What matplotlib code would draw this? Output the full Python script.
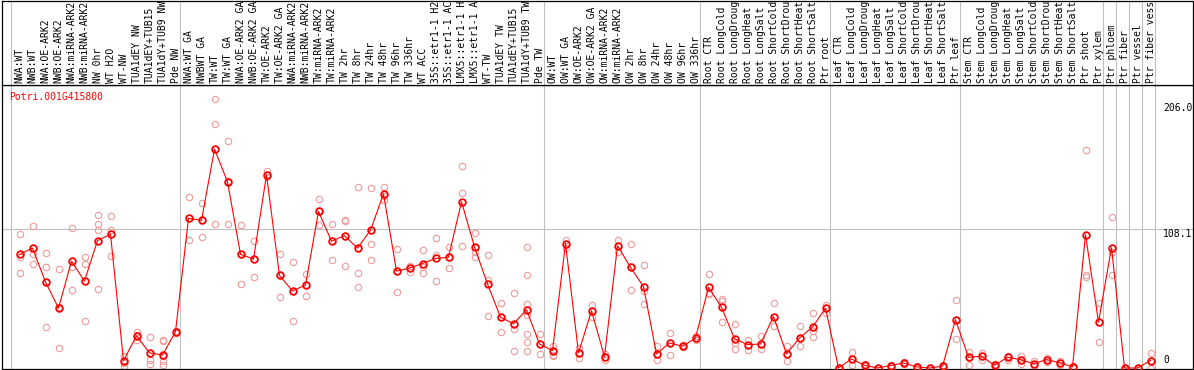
import matplotlib
matplotlib.use("Agg")
import matplotlib.pyplot as plt
import matplotlib.transforms as mtransforms

# column labels, truncated the way the chart shows them
group_labels = [
    ["NWA:WT", "NWB:WT", "NWA:OE-ARK2", "NWB:OE-ARK2", "NWA:miRNA-ARK2",
     "NWB:miRNA-ARK2", "NW 0hr", "WT H2O", "WT-NW", "TUA1dEY NW",
     "TUA1dEY+TUB15", "TUA1dY+TUB9 NW", "Pde NW"],
    ["NWA:WT GA", "NWBWT GA", "TW:WT", "TW:WT GA", "NWA:OE-ARK2 GA",
     "NWB:OE-ARK2 GA", "TW:OE-ARK2", "TW:OE-ARK2 GA", "NWA:miRNA-ARK2",
     "NWB:miRNA-ARK2", "TW:miRNA-ARK2", "TW:miRNA-ARK2", "TW 2hr", "TW 8hr",
     "TW 24hr", "TW 48hr", "TW 96hr", "TW 336hr", "WT ACC", "35S::etr1-1 H2",
     "35S::etr1-1 AC", "LMX5::etr1-1 H", "LMX5::etr1-1 A", "WT-TW",
     "TUA1dEY TW", "TUA1dEY+TUB15", "TUA1dY+TUB9 TW", "Pde TW"],
    ["OW:WT", "OW:WT GA", "OW:OE-ARK2", "OW:OE-ARK2 GA", "OW:miRNA-ARK2",
     "OW:miRNA-ARK2", "OW 2hr", "OW 8hr", "OW 24hr", "OW 48hr", "OW 96hr",
     "OW 336hr"],
    ["Root CTR", "Root LongCold", "Root LongDroug", "Root LongHeat",
     "Root LongSalt", "Root ShortCold", "Root ShortDrou", "Root ShortHeat",
     "Root ShortSalt", "Ptr root"],
    ["Leaf CTR", "Leaf LongCold", "Leaf LongDroug", "Leaf LongHeat",
     "Leaf LongSalt", "Leaf ShortCold", "Leaf ShortDrou", "Leaf ShortHeat",
     "Leaf ShortSalt", "Ptr leaf"],
    ["Stem CTR", "Stem LongCold", "Stem LongDroug", "Stem LongHeat",
     "Stem LongSalt", "Stem ShortCold", "Stem ShortDrou", "Stem ShortHeat",
     "Stem ShortSalt", "Ptr shoot", "Ptr xylem"],
    ["Ptr phloem"],
    ["Ptr fiber"],
    ["Ptr vessel"],
    ["Ptr fiber vess"],
]

means = [
    88.0, 92.9, 66.7, 46.4, 82.8, 67.4, 98.8, 103.7, 5.7, 25.0, 11.7, 10.1, 28.1,
    116.0, 114.5, 169.7, 144.3, 88.2, 84.4, 149.7, 71.8, 59.7, 64.4, 121.4, 98.3,
    102.6, 92.9, 106.8, 135.0, 75.1, 77.5, 81.0, 84.9, 85.9, 128.9, 93.9, 65.1,
    39.4, 34.3, 45.1, 18.6,
    13.5, 96.5, 11.7, 44.3, 8.8, 94.9, 78.0, 63.1, 10.9, 19.4, 16.8, 23.2,
    62.5, 47.1, 22.7, 18.1, 18.6, 39.9, 10.9, 23.2, 31.7, 46.4,
    0.0, 7.0, 2.1, 0.0, 1.9, 3.9, 0.9, 0.0, 1.4, 37.4,
    8.3, 9.1, 2.1, 8.3, 6.5, 3.4, 6.5, 4.2, 0.9, 103.4, 35.6,
    93.4, 0.0, 0.0, 5.8,
]

replicates = [
    [104.2, 86.2, 73.3], [110.3, 88.0, 80.3], [88.8, 78.0, 32.0],
    [76.4, 47.0, 15.8], [108.3, 78.5, 60.5], [85.7, 80.3, 36.6],
    [118.3, 111.4, 106.8, 61.0], [117.5, 106.8, 87.2], [9.1, 4.0, 1.9],
    [27.6, 25.5, 21.4], [24.3, 6.5, 3.4], [22.0, 20.7, 9.1, 5.2, 2.1],
    [29.0, 27.5],
    [132.7, 116.0, 99.6], [128.1, 114.5, 101.4], [208.3, 189.0, 111.9],
    [175.9, 145.0, 111.9], [111.1, 88.2, 65.1], [98.3, 84.4, 70.3],
    [152.5, 147.9], [88.2, 71.8, 54.8], [81.8, 59.7, 36.6], [72.9, 64.4, 55.9],
    [130.7, 121.4, 111.1], [111.9, 98.3, 84.1], [115.0, 114.2, 79.0],
    [140.7, 73.3, 62.5], [139.9, 96.0, 83.4], [140.7, 133.7, 130.6],
    [92.1, 75.1, 58.9], [79.3, 77.5, 74.4], [91.8, 78.0, 73.3],
    [100.6, 87.5, 67.4], [93.6, 85.9, 77.2], [156.6, 135.8, 94.4],
    [105.0, 90.0, 85.9], [87.5, 68.2, 40.4], [50.7, 39.4, 28.1],
    [58.4, 30.2, 13.5], [93.6, 72.0, 49.7, 41.2, 26.6, 20.1, 13.5],
    [26.6, 18.6, 10.9],
    [16.8, 10.4, 9.6], [99.6, 96.5, 93.1], [15.5, 11.7, 7.5],
    [48.9, 44.3, 39.9], [11.1, 8.8, 6.0], [99.6, 94.9, 90.0],
    [96.0, 78.0, 60.5], [79.5, 60.0, 49.7], [16.8, 10.9, 6.5],
    [27.1, 19.4, 10.4], [18.1, 16.8, 16.0], [25.0, 23.2, 21.9],
    [72.6, 58.0, 57.0], [53.8, 52.0, 35.6], [34.0, 19.4, 14.7],
    [21.9, 18.1, 14.2], [24.5, 18.6, 14.7], [50.2, 39.9, 32.2],
    [16.8, 10.9, 5.2], [32.2, 23.2, 16.8], [42.5, 28.4, 23.7],
    [48.9, 46.4, 42.5],
    [0.0, 0.0, 0.0], [12.2, 7.0, 2.7], [3.0, 2.1, 1.2], [0.0, 0.0, 0.0],
    [2.5, 1.9, 1.3], [5.0, 3.9, 2.8], [1.5, 0.9, 0.3], [0.0, 0.0, 0.0],
    [2.3, 1.4, 0.5], [52.5, 37.4, 22.4],
    [12.7, 8.3, 2.4], [11.7, 9.1, 6.5], [3.0, 2.1, 1.2], [9.6, 8.3, 6.5],
    [9.1, 6.5, 3.2], [5.8, 3.4, 1.4], [7.8, 6.5, 4.5], [5.8, 4.2, 2.6],
    [1.5, 0.9, 0.3], [168.9, 72.0, 70.3], [50.7, 35.6, 20.4],
    [117.3, 90.0, 72.0], [0.0, 0.0], [0.0, 0.0], [11.7, 5.8, 0.0],
]

gene = "Potri.001G415800"
ytick_vals = [0, 108.1, 206.0]
ytick_labels = ["0", "108.1", "206.0"]

labels = [l for g in group_labels for l in g]
xs = list(range(len(labels)))

W, H = 1194, 370
MONO = "DejaVu Sans Mono"
GREY = "#c0c0c0"
RED = "#ff0000"
PINK = "#f09a9a"


def frac(x0, y0, x1, y1):
    # pixel box (top-left origin) -> figure fraction rect
    return [x0 / W, 1 - y1 / H, (x1 - x0) / W, (y1 - y0) / H]


fig = plt.figure(figsize=(W / 100, H / 100), dpi=100)
ax = fig.add_axes(frac(1.5, 85, 1192.5, 369))
top = fig.add_axes(frac(1.5, 0.5, 1192.5, 85), sharex=ax)

ax.set_xlim(-1.385, 90.23)
ax.set_ylim(-0.78, 219.4)
top.set_ylim(0, 1)

for a in (ax, top):
    a.set_xticks([])
    a.set_yticks([])
    for s in a.spines.values():
        s.set_linewidth(0.9)
        s.set_color("black")

# group separators
edges = [0]
for g in group_labels:
    edges.append(edges[-1] + len(g))
for e in edges:
    for a in (ax, top):
        a.axvline(e - 0.65, color=GREY, lw=0.8, zorder=0)

ax.axhline(ytick_vals[1], color=GREY, lw=0.8, zorder=0)

# replicate points
rx = [x for x, r in zip(xs, replicates) for _ in r]
ry = [v for r in replicates for v in r]
ax.plot(rx, ry, "o", ls="none", mfc="none", mec=PINK, ms=4.6, mew=0.8,
        zorder=2, clip_on=True)

# means
ax.plot(xs, means, "-", color=RED, lw=0.8, zorder=3)
ax.plot(xs, means, "o", ls="none", mfc="none", mec=RED, ms=4.8, mew=1.3,
        zorder=4)

for x, lab in zip(xs, labels):
    top.text(x, 0.018, lab, rotation=90, ha="center", va="bottom",
             fontsize=7, family=MONO, clip_on=True)

ax.text(0.0068, 0.958, gene, transform=ax.transAxes, color=RED,
        fontsize=7, family=MONO, ha="left", va="center")

trans = mtransforms.blended_transform_factory(ax.transAxes, ax.transData)
for v, lab in zip(ytick_vals, ytick_labels):
    if v == 0:
        ax.annotate(lab, xy=(0.9752, v), xycoords=trans, xytext=(0, 2.5),
                    textcoords="offset points", fontsize=7, family=MONO,
                    ha="left", va="bottom")
    else:
        ax.annotate(lab, xy=(0.9752, v), xycoords=trans, xytext=(0, -0.5),
                    textcoords="offset points", fontsize=7, family=MONO,
                    ha="left", va="top")

fig.savefig("out.png", dpi=100)
